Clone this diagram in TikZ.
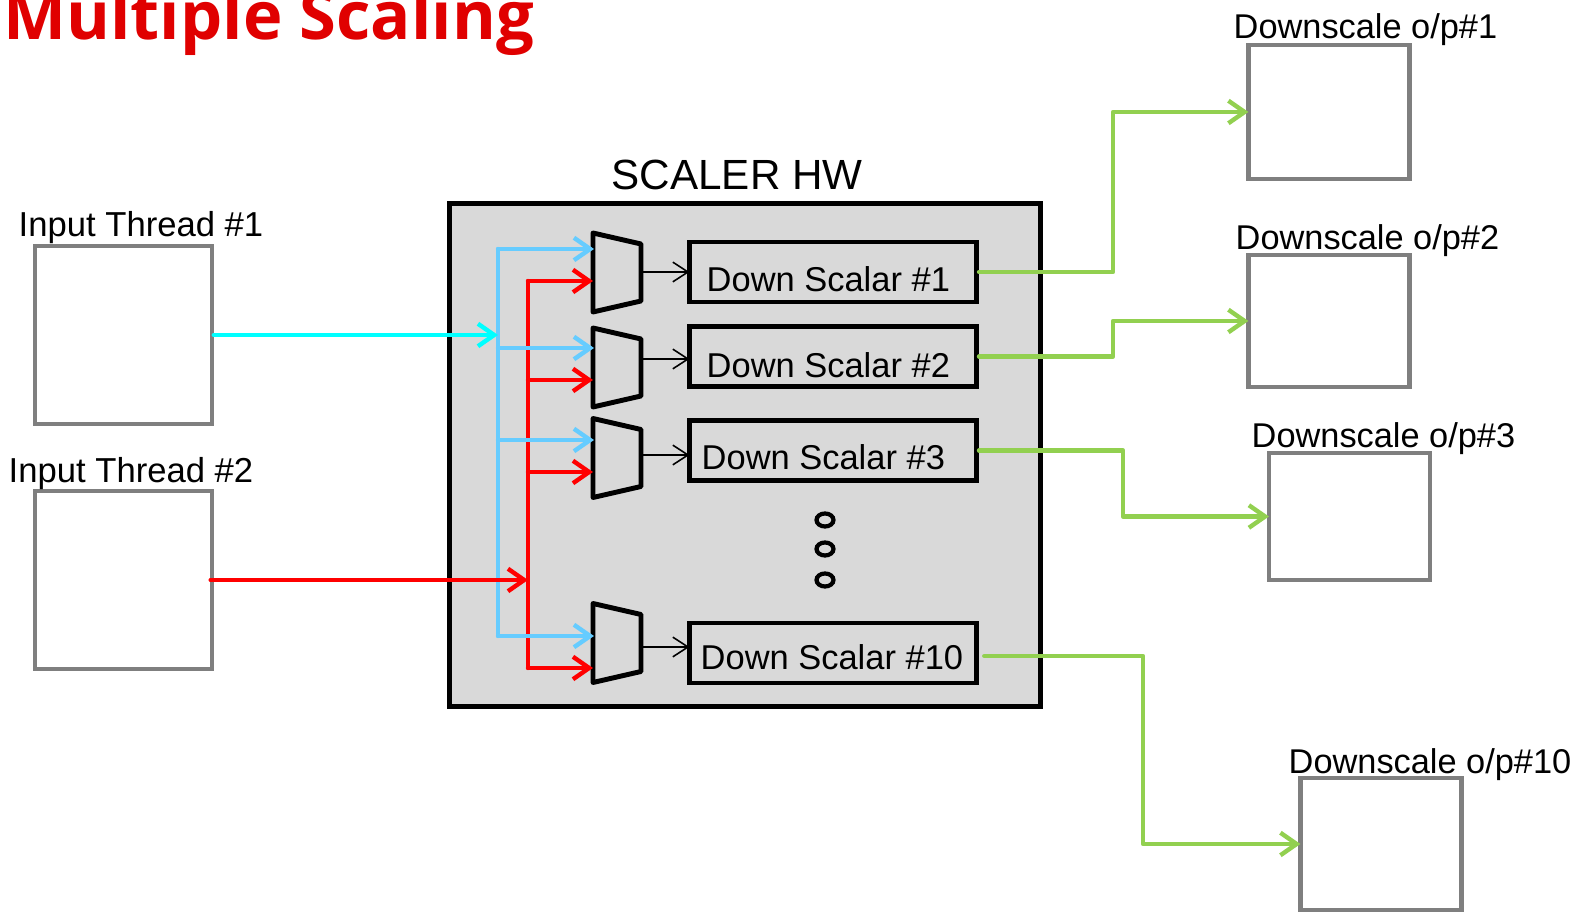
\documentclass[tikz,border=0pt]{standalone}
\usepackage{fontspec}
\setmainfont{Liberation Sans}
\newfontfamily\titlefont{Open Sans}
\usetikzlibrary{arrows.meta}
\definecolor{titlered}{RGB}{224,0,0}
\definecolor{hwgray}{RGB}{217,217,217}
\definecolor{framegray}{RGB}{127,127,127}
\definecolor{busblue}{RGB}{102,204,255}
\definecolor{buscyan}{RGB}{0,255,255}
\definecolor{busred}{RGB}{255,0,0}
\definecolor{outgreen}{RGB}{146,208,80}
\tikzset{
    framebox/.style={draw=framegray, line width=1.3pt, fill=white, outer sep=0pt},
    scalerbox/.style={draw=black, line width=1.3pt, fill=hwgray, minimum height=0.6cm, inner sep=0pt, outer sep=0pt},
    muxline/.style={draw=black, line width=1.4pt, line join=round},
    busline/.style={line width=1.25pt, line cap=round, line join=round},
    busarrow/.style={busline, -{Straight Barb[length=4.6pt,width=6.4pt,line width=1.25pt]}},
    thinarrow/.style={line width=0.45pt, -{Straight Barb[length=4.3pt,width=5.6pt,line width=0.45pt]}},
    labeltext/.style={anchor=base west, inner sep=0pt}
}
\begin{document}
\begin{tikzpicture}[x=0.01cm, y=-0.01cm]
        \clip (0, 0) rectangle (1575, 913);
        % Title
        \node [labeltext, text=titlered] (title) at (3, 40) {\titlefont\bfseries\fontsize{19}{19}\selectfont Multiple Scaling};
        % Scaler hardware
        \node [labeltext] (hwtitle) at (611, 190) {\fontsize{12}{12}\selectfont SCALER HW};
        \node [draw=black, line width=1.3pt, fill=hwgray, minimum width=5.91cm, minimum height=5.03cm] (hw) at (745, 455) {};
        % Input and output frames
        \node [framebox, minimum width=1.77cm, minimum height=1.78cm] (in1) at (123.5, 335) {};
        \node [framebox, minimum width=1.77cm, minimum height=1.78cm] (in2) at (123.5, 580) {};
        \node [framebox, minimum width=1.61cm, minimum height=1.34cm] (op1) at (1329, 112) {};
        \node [framebox, minimum width=1.61cm, minimum height=1.32cm] (op2) at (1329, 321) {};
        \node [framebox, minimum width=1.61cm, minimum height=1.27cm] (op3) at (1349.5, 516.5) {};
        \node [framebox, minimum width=1.61cm, minimum height=1.32cm] (op4) at (1381, 844) {};
        \node [labeltext] (inlabel1) at (18, 237) {\fontsize{9.85}{9.85}\selectfont Input Thread \#1};
        \node [labeltext] (inlabel2) at (8, 483) {\fontsize{9.85}{9.85}\selectfont Input Thread \#2};
        \node [labeltext] (oplabel1) at (1233, 39) {\fontsize{9.77}{9.77}\selectfont Downscale o/p\#1};
        \node [labeltext] (oplabel2) at (1235, 250) {\fontsize{9.77}{9.77}\selectfont Downscale o/p\#2};
        \node [labeltext] (oplabel3) at (1251, 448) {\fontsize{9.77}{9.77}\selectfont Downscale o/p\#3};
        \node [labeltext] (oplabel4) at (1288, 774) {\fontsize{9.77}{9.77}\selectfont Downscale o/p\#10};
        % Down scalars
        \node [scalerbox, minimum width=2.87cm] (ds1) at (833, 272) {};
        \node [scalerbox, minimum width=2.87cm] (ds2) at (833, 356.5) {};
        \node [scalerbox, minimum width=2.87cm] (ds3) at (833, 450.5) {};
        \node [scalerbox, minimum width=2.87cm] (ds4) at (833, 653) {};
        \node [labeltext] (dslabel1) at (706, 291.5) {\fontsize{9.8}{9.8}\selectfont Down Scalar \#1};
        \node [labeltext] (dslabel2) at (706, 378) {\fontsize{9.8}{9.8}\selectfont Down Scalar \#2};
        \node [labeltext] (dslabel3) at (701, 470) {\fontsize{9.8}{9.8}\selectfont Down Scalar \#3};
        \node [labeltext] (dslabel4) at (700, 670) {\fontsize{9.8}{9.8}\selectfont Down Scalar \#10};
        % Muxes
        \foreach \n/\y/\o in {1/272.5/272, 2/367.5/359, 3/458/455, 4/643/647} {
            \draw [muxline] (593, \y-39.5) -- (641, \y-28.5) -- (641, \y+28.5) -- (593, \y+39.5) -- cycle;
            \coordinate (mux\n out) at (641, \o);
            \draw [thinarrow] (mux\n out) -- (mux\n out -| ds\n.west);
        }
        % Buses
        \draw [busline, busred] (528, 281) -- (528, 668);
        \foreach \y in {281, 380, 472, 668} {
            \draw [busarrow, busred] (528, \y) -- (593, \y);
        }
        \draw [busline, busblue] (498, 249) -- (498, 636);
        \foreach \y in {249, 348, 440, 636} {
            \draw [busarrow, busblue] (498, \y) -- (594, \y);
        }
        \coordinate (bluejoin) at (498, 335);
        \coordinate (redjoin) at (528, 580);
        \draw [busarrow, buscyan] ([xshift=0.5pt]in1.east) -- (bluejoin);
        \draw [busarrow, busred] ([xshift=-0.4pt]in2.east) -- (redjoin);
        % Outputs
        \coordinate (bend1) at (1113, 112);
        \coordinate (bend2) at (1113, 321);
        \coordinate (bend3) at (1123, 516.5);
        \coordinate (bend4) at (1143, 844);
        \draw [busarrow, outgreen] ([xshift=0.7pt]ds1.east) -| (bend1) -- (op1.west);
        \draw [busarrow, outgreen] ([xshift=0.7pt]ds2.east) -| (bend2) -- (op2.west);
        \draw [busarrow, outgreen] ([xshift=0.7pt]ds3.east) -| (bend3) -- (op3.west);
        \draw [busarrow, outgreen] ([xshift=2.2pt, yshift=-0.85pt]ds4.east) -| (bend4) -- (op4.west);
        % Dots
        \foreach \y in {520, 549, 580} {
            \draw [line width=1.2pt] (825, \y) ellipse (8.5 and 6.5);
        }
    \end{tikzpicture}
\end{document}
